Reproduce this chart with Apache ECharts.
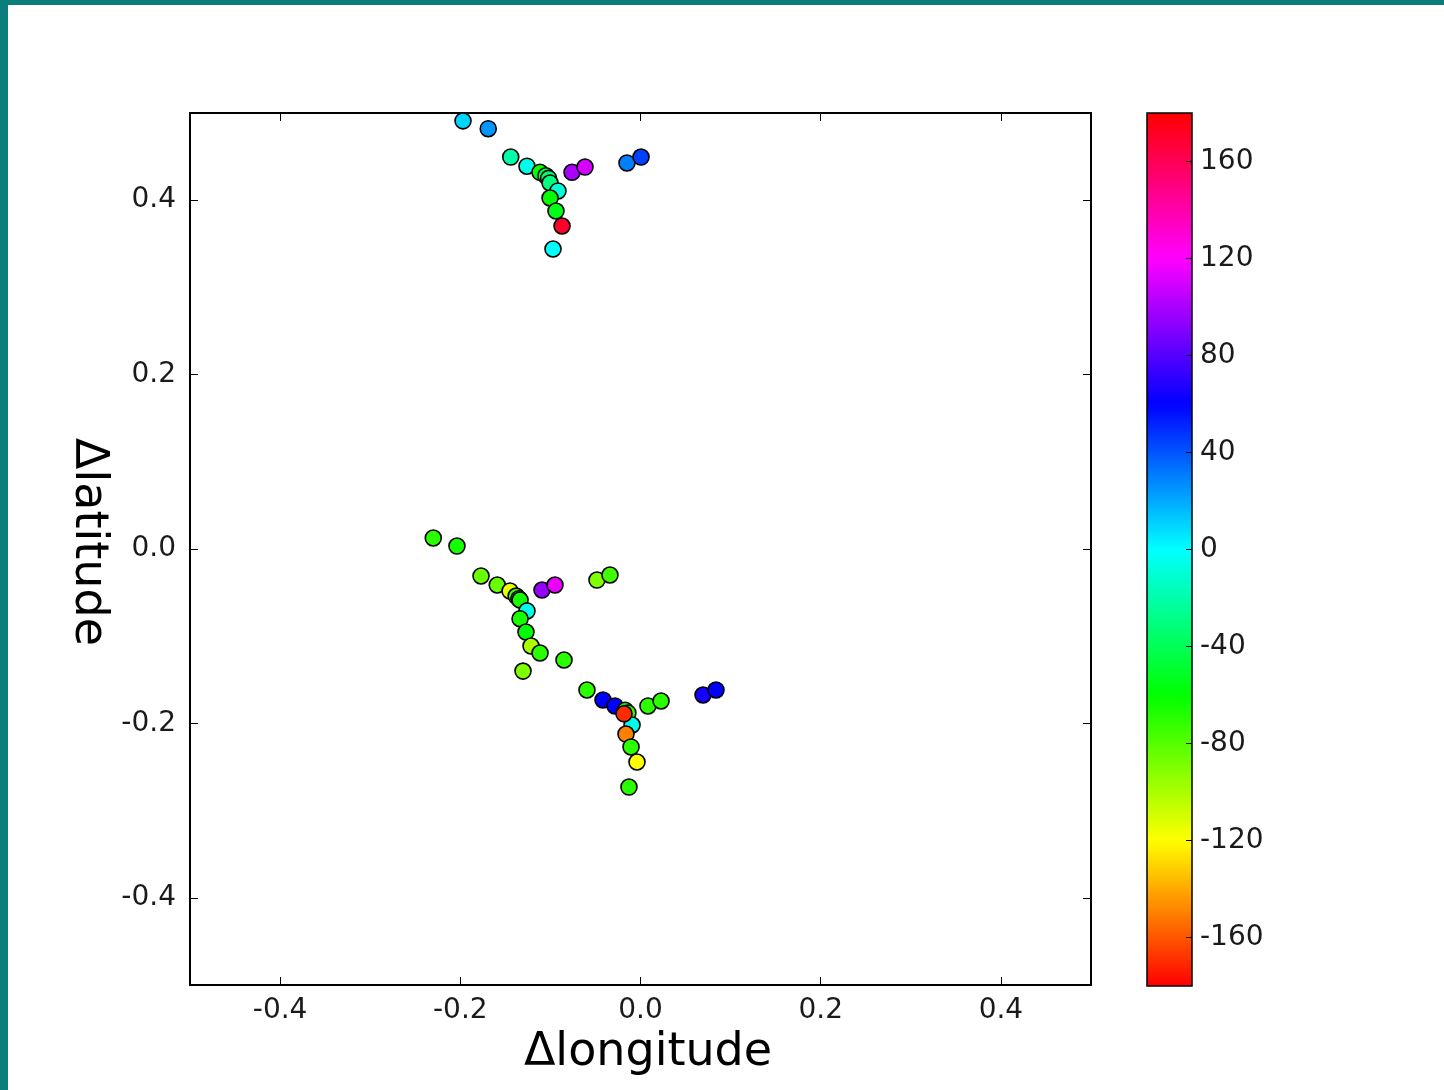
<!DOCTYPE html>
<html>
<head>
<meta charset="utf-8">
<script src="https://cdn.jsdelivr.net/npm/echarts@6/dist/echarts.min.js"></script>
<style>
  html, body { margin: 0; padding: 0; background: #ffffff; }
  #chart { width: 1444px; height: 1090px; }
</style>
</head>
<body>
<div id="chart"></div>
<script>
// Δlongitude, Δlatitude, and colour value (angle, degrees)
const lon = [
  -0.197, -0.169, -0.144, -0.126, -0.1115, -0.105, -0.102, -0.1004, -0.0916, -0.1004, -0.0938, -0.0871, -0.0971, -0.076, -0.0616, -0.015, 0.0006,
  -0.230, -0.2037, -0.177, -0.159, -0.1448, -0.138, -0.135, -0.1337, -0.126, -0.1337, -0.1271, -0.1215, -0.1115, -0.1304, -0.0849, -0.1093, -0.0949, -0.0483, -0.0339,
  -0.0594, -0.0416, -0.0283, -0.017, -0.014, -0.0094, -0.0183, -0.0161, -0.0105, -0.0039, -0.0128, 0.0083, 0.0228, 0.0694, 0.0838
];
const lat = [
  0.491, 0.482, 0.4495, 0.439, 0.432, 0.428, 0.425, 0.4197, 0.4106, 0.4025, 0.3876, 0.3704, 0.344, 0.432, 0.438, 0.4427, 0.4495,
  0.0126, 0.0034, -0.031, -0.0413, -0.0482, -0.054, -0.057, -0.0585, -0.071, -0.080, -0.0952, -0.1112, -0.1193, -0.140, -0.1273, -0.047, -0.0413, -0.0356, -0.0298,
  -0.1617, -0.1732, -0.180, -0.185, -0.188, -0.2018, -0.189, -0.2122, -0.227, -0.2443, -0.273, -0.180, -0.1743, -0.1674, -0.1617
];
const angle = [
  10, 25, -20, -5, -60, -45, -35, -30, -10, -60, -55, 170, 0, 100, 110, 30, 45,
  -70, -65, -85, -85, -115, -75, -70, -65, -5, -65, -60, -100, -70, -90, -70, 95, 115, -90, -75,
  -70, 60, 60, -60, -70, -5, -170, -150, -70, -120, -70, -70, -70, 65, 60
];
const axisTicks = [-0.4, -0.2, 0.0, 0.2, 0.4];
const colorbarTicks = [-160, -120, -80, -40, 0, 40, 80, 120, 160];
const colorMin = -180, colorMax = 180;

const points = lon.map((x, i) => [x, lat[i], angle[i]]);

const FONT = '"DejaVu Sans", Verdana, sans-serif';
const chart = echarts.init(document.getElementById('chart'), null, { renderer: 'canvas' });

const tickLabel = { fontFamily: FONT, fontSize: 28, color: '#1a1a1a' };
const hiddenLine = { show: false, onZero: false };

chart.setOption({
  backgroundColor: '#ffffff',
  animation: false,
  grid: [
    { left: 190, top: 113, width: 901, height: 872, show: true, borderColor: '#000', borderWidth: 2, backgroundColor: 'transparent', z: 3 },
    { left: 1147, top: 113, width: 45, height: 873, show: true, borderColor: '#000', borderWidth: 1.5, backgroundColor: 'transparent', z: 10 }
  ],
  xAxis: [
    { gridIndex: 0, type: 'value', min: -0.5, max: 0.5, position: 'bottom',
      axisLine: hiddenLine, splitLine: { show: false },
      axisTick: { show: true, inside: true, length: 8, customValues: axisTicks, lineStyle: { color: '#000', width: 1 } },
      axisLabel: Object.assign({ show: true, margin: 12, customValues: axisTicks, formatter: v => v.toFixed(1) }, tickLabel) },
    { gridIndex: 0, type: 'value', min: -0.5, max: 0.5, position: 'top',
      axisLine: hiddenLine, splitLine: { show: false },
      axisTick: { show: true, inside: true, length: 8, customValues: axisTicks, lineStyle: { color: '#000', width: 1 } },
      axisLabel: { show: false } },
    { gridIndex: 1, type: 'value', min: 0, max: 1, show: false, axisLine: hiddenLine }
  ],
  yAxis: [
    { gridIndex: 0, type: 'value', min: -0.5, max: 0.5, position: 'left',
      axisLine: hiddenLine, splitLine: { show: false },
      axisTick: { show: true, inside: true, length: 8, customValues: axisTicks, lineStyle: { color: '#000', width: 1 } },
      axisLabel: Object.assign({ show: true, margin: 14, customValues: axisTicks, formatter: v => v.toFixed(1) }, tickLabel) },
    { gridIndex: 0, type: 'value', min: -0.5, max: 0.5, position: 'right',
      axisLine: hiddenLine, splitLine: { show: false },
      axisTick: { show: true, inside: true, length: 8, customValues: axisTicks, lineStyle: { color: '#000', width: 1 } },
      axisLabel: { show: false } },
    { gridIndex: 1, type: 'value', min: colorMin, max: colorMax, position: 'right', z: 10,
      axisLine: hiddenLine, splitLine: { show: false },
      axisTick: { show: true, inside: true, length: 6, customValues: colorbarTicks, lineStyle: { color: '#000', width: 1 } },
      axisLabel: Object.assign({ show: true, margin: 8, customValues: colorbarTicks }, tickLabel) }
  ],
  visualMap: {
    type: 'continuous',
    min: colorMin, max: colorMax,
    dimension: 2,
    seriesIndex: 0,
    orient: 'vertical',
    left: 1147, top: 113,
    itemWidth: 45, itemHeight: 873,
    padding: 0,
    calculable: false,
    hoverLink: false,
    text: null,
    z: 1,
    inRange: { color: ['#ff0000', '#ffff00', '#00ff00', '#00ffff', '#0000ff', '#ff00ff', '#ff0000'] }
  },
  series: [
    { type: 'scatter', xAxisIndex: 0, yAxisIndex: 0, data: points, symbol: 'circle', symbolSize: 16,
      clip: false, z: 5,
      itemStyle: { borderColor: '#000', borderWidth: 1.6, opacity: 1 } }
  ],
  graphic: [
    { type: 'rect', left: 0, top: 0, shape: { width: 1444, height: 5 }, style: { fill: '#0b7d7a' }, z: 100 },
    { type: 'rect', left: 0, top: 0, shape: { width: 8, height: 1090 }, style: { fill: '#0b7d7a' }, z: 100 },
    { type: 'text', x: 648, y: 1053, style: { text: 'Δlongitude', fontFamily: FONT, fontSize: 46, fill: '#000', align: 'center', verticalAlign: 'middle' } },
    { type: 'text', x: 88, y: 542, rotation: -Math.PI / 2, style: { text: 'Δlatitude', fontFamily: FONT, fontSize: 46, fill: '#000', align: 'center', verticalAlign: 'middle' } }
  ]
});
</script>
</body>
</html>
